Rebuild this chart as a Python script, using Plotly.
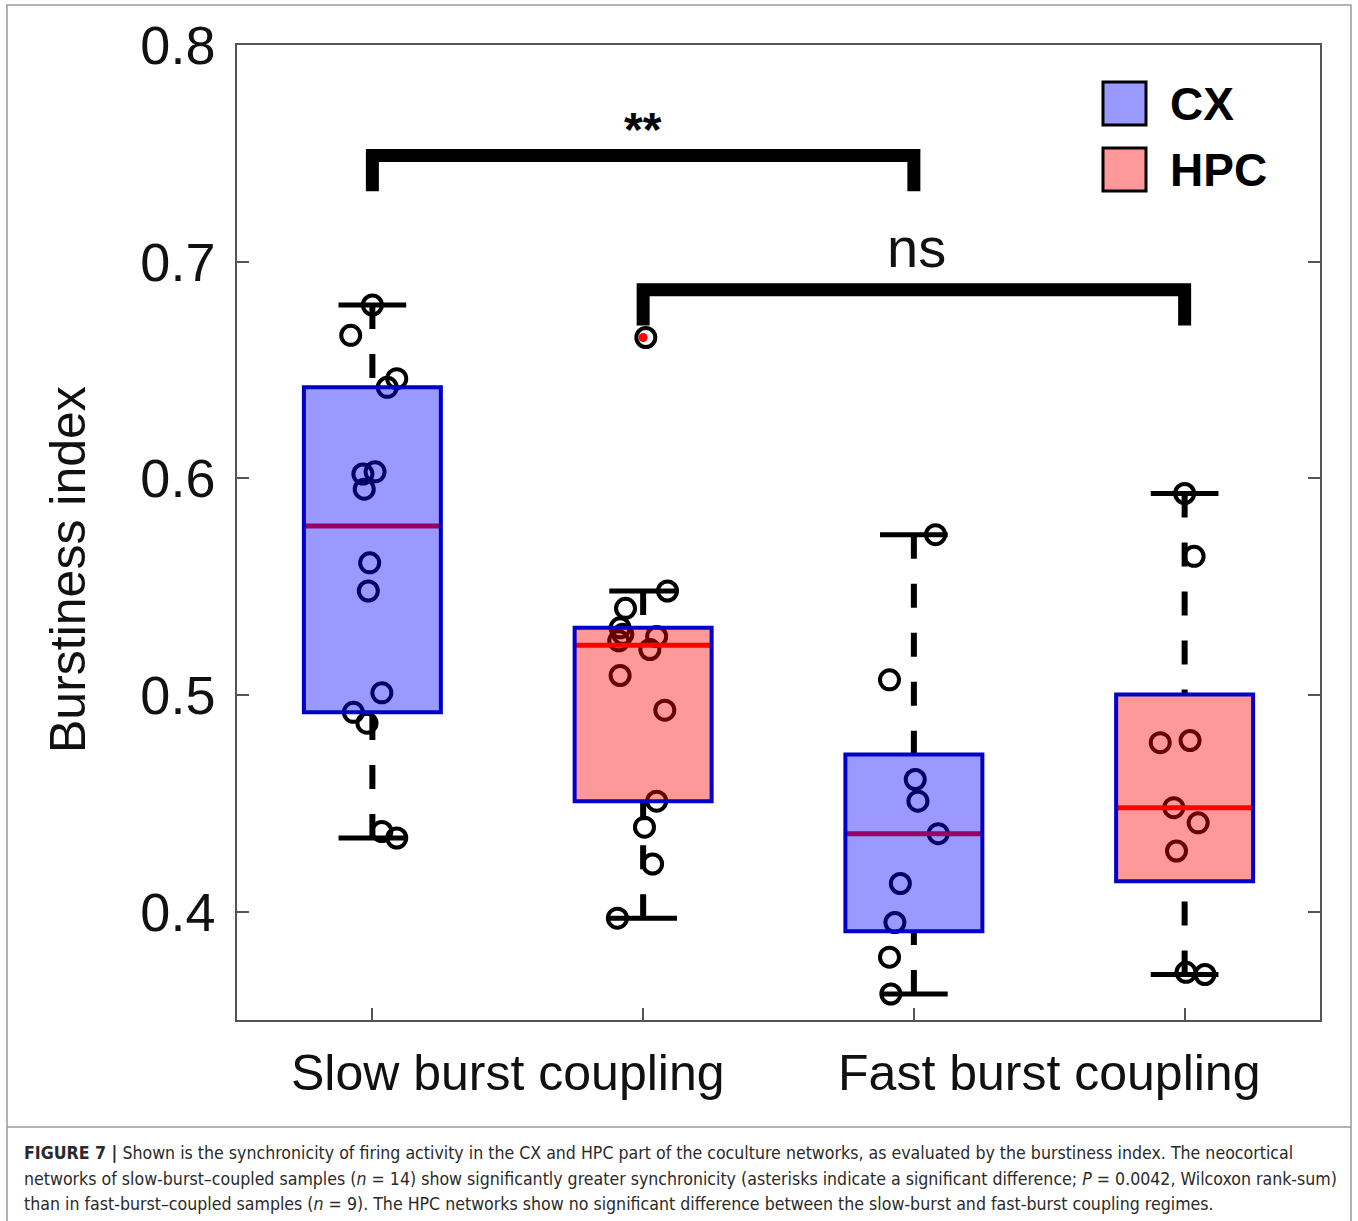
import plotly.graph_objects as go

# ---- data: burstiness index per culture -------------------------------
positions = [1, 2, 3, 4]
regions = ["CX", "HPC", "CX", "HPC"]
category_labels = ["Slow burst coupling", "Fast burst coupling"]
category_centers = [1.5, 3.5]

cx_slow = [0.680, 0.666, 0.646, 0.642, 0.603, 0.602, 0.595, 0.561, 0.548,
           0.501, 0.492, 0.487, 0.437, 0.434]
hpc_slow = [0.665, 0.548, 0.540, 0.531, 0.528, 0.527, 0.525, 0.521, 0.509,
            0.493, 0.451, 0.439, 0.422, 0.397]
cx_fast = [0.574, 0.507, 0.461, 0.451, 0.436, 0.413, 0.395, 0.379, 0.362]
hpc_fast = [0.593, 0.564, 0.479, 0.478, 0.448, 0.441, 0.428, 0.372, 0.371]

# horizontal scatter offsets of the individual cultures
cx_slow_jitter = [0.0, -0.08, 0.09, 0.055, 0.01, -0.035, -0.03, -0.01, -0.015,
                  0.035, -0.07, -0.02, 0.035, 0.09]
hpc_slow_jitter = [0.01, 0.09, -0.065, -0.085, -0.075, 0.05, -0.09, 0.025,
                   -0.085, 0.08, 0.05, 0.005, 0.035, -0.095]
cx_fast_jitter = [0.08, -0.09, 0.005, 0.015, 0.09, -0.05, -0.07, -0.09, -0.085]
hpc_fast_jitter = [0.0, 0.035, 0.02, -0.09, -0.04, 0.05, -0.03, 0.005, 0.075]

samples = [cx_slow, hpc_slow, cx_fast, hpc_fast]
jitters = [cx_slow_jitter, hpc_slow_jitter, cx_fast_jitter, hpc_fast_jitter]

# significance brackets
sig_pairs = [(1, 3), (2, 4)]
sig_labels = ["**", "ns"]
sig_heights = [0.749, 0.687]
sig_drop = 0.0165

y_ticks = [0.4, 0.5, 0.6, 0.7, 0.8]
y_range = [0.35, 0.8]
x_range = [0.5, 4.5]

# ---- styling -----------------------------------------------------------
fill = {"CX": "rgba(0,0,255,0.4)", "HPC": "rgba(255,0,0,0.4)"}
legend_fill = {"CX": "#9999ff", "HPC": "#ff9999"}
box_edge = "#0000c8"
box_half = 0.253
cap_half = 0.125
W, H = 1358, 1221
L, R, T, B = 237, 38, 45, 201


def px_x(p):
    return (p - L) / (W - L - R)


def px_y(p):
    return (H - B - p) / (H - T - B)


def prctile(vals, p):
    """Percentile as computed by MATLAB's prctile."""
    x = sorted(vals)
    n = len(x)
    pos = p / 100.0 * n + 0.5
    if pos <= 1:
        return x[0]
    if pos >= n:
        return x[-1]
    lo = int(pos)
    frac = pos - lo
    return x[lo - 1] + frac * (x[lo] - x[lo - 1])


def box_stats(vals):
    q1, med, q3 = prctile(vals, 25), prctile(vals, 50), prctile(vals, 75)
    iqr = q3 - q1
    hi = max(v for v in vals if v <= q3 + 1.5 * iqr)
    lo = min(v for v in vals if v >= q1 - 1.5 * iqr)
    out = [v for v in vals if v > hi or v < lo]
    return q1, med, q3, lo, hi, out


fig = go.Figure()
shapes = []

for pos, reg, vals, jit in zip(positions, regions, samples, jitters):
    q1, med, q3, lo, hi, out = box_stats(vals)

    # individual cultures
    fig.add_trace(go.Scatter(
        x=[pos + j for j in jit], y=vals, mode="markers",
        marker=dict(symbol="circle-open", size=19, color="black",
                    line=dict(width=4, color="black")),
        showlegend=False, hoverinfo="y"))

    # median (sits below the translucent box fill)
    fig.add_trace(go.Scatter(
        x=[pos - box_half, pos + box_half], y=[med, med], mode="lines",
        line=dict(color="#ff0000", width=5), showlegend=False, hoverinfo="skip"))

    # dashed whiskers, drawn from the whisker end toward the box
    for end, edge in ((hi, q3), (lo, q1)):
        fig.add_trace(go.Scatter(
            x=[pos, pos], y=[end, edge], mode="lines",
            line=dict(color="black", width=6, dash="24px,25px"),
            showlegend=False, hoverinfo="skip"))
        fig.add_trace(go.Scatter(
            x=[pos - cap_half, pos + cap_half], y=[end, end], mode="lines",
            line=dict(color="black", width=5),
            showlegend=False, hoverinfo="skip"))

    # outliers
    if out:
        fig.add_trace(go.Scatter(
            x=[pos] * len(out), y=out, mode="markers",
            marker=dict(symbol="circle", size=9, color="#ff0000"),
            showlegend=False, hoverinfo="y"))

    # interquartile box
    shapes.append(dict(type="rect", xref="x", yref="y",
                       x0=pos - box_half, x1=pos + box_half, y0=q1, y1=q3,
                       fillcolor=fill[reg], line=dict(color=box_edge, width=4),
                       layer="above"))

# significance brackets
for (a, b), lab, h in zip(sig_pairs, sig_labels, sig_heights):
    fig.add_trace(go.Scatter(
        x=[a, a, b, b], y=[h - sig_drop, h, h, h - sig_drop], mode="lines",
        line=dict(color="black", width=13), showlegend=False, hoverinfo="skip"))

fig.add_annotation(x=2, y=0.761, xref="x", yref="y", text="<b>**</b>",
                   showarrow=False, font=dict(size=48, color="black",
                                              family="Liberation Sans, Arial"))
fig.add_annotation(x=3.01, y=0.7065, xref="x", yref="y", text="ns",
                   showarrow=False, font=dict(size=56, color="#111111",
                                              family="Liberation Sans, Arial"))

# legend drawn as swatches with labels
for reg, top in (("CX", 82), ("HPC", 148)):
    shapes.append(dict(type="rect", xref="paper", yref="paper",
                       x0=px_x(1103), x1=px_x(1146), y0=px_y(top + 43), y1=px_y(top),
                       fillcolor=legend_fill[reg], line=dict(color="black", width=3)))
    fig.add_annotation(x=px_x(1168), y=px_y(top + 22), xref="paper", yref="paper",
                       xanchor="left", yanchor="middle", text="<b>%s</b>" % reg,
                       showarrow=False,
                       font=dict(size=46, color="black", family="Liberation Sans, Arial"))

# y-axis title
fig.add_annotation(x=px_x(68), y=px_y(570), xref="paper", yref="paper",
                   text="Burstiness index", textangle=-90, showarrow=False,
                   xanchor="center", yanchor="middle",
                   font=dict(size=50, color="#111111", family="Liberation Sans, Arial"))

# figure frame and caption
shapes.append(dict(type="rect", xref="paper", yref="paper",
                   x0=px_x(7), x1=px_x(1351), y0=px_y(1240), y1=px_y(5),
                   line=dict(color="#9a9a9a", width=1.5), fillcolor="rgba(0,0,0,0)"))
shapes.append(dict(type="line", xref="paper", yref="paper",
                   x0=px_x(7), x1=px_x(1351), y0=px_y(1127), y1=px_y(1127),
                   line=dict(color="#9a9a9a", width=1.5)))

caption_lines = [
    "<b>FIGURE 7 |</b> Shown is the synchronicity of firing activity in the CX and HPC part "
    "of the coculture networks, as evaluated by the burstiness index. The neocortical",
    "networks of slow-burst–coupled samples (<i>n</i> = 14) show significantly greater "
    "synchronicity (asterisks indicate a significant difference; <i>P</i> = 0.0042, "
    "Wilcoxon rank-sum)",
    "than in fast-burst–coupled samples (<i>n</i> = 9). The HPC networks show no significant "
    "difference between the slow-burst and fast-burst coupling regimes.",
]
for i, line in enumerate(caption_lines):
    fig.add_annotation(x=px_x(22), y=px_y(1153 + 25.5 * i), xref="paper", yref="paper",
                       xanchor="left", yanchor="middle", text=line, showarrow=False,
                       font=dict(size=17.6, color="#2a2a2a",
                                 family="DejaVu Sans Condensed, Liberation Sans, Arial"))

fig.update_layout(
    width=W, height=H, margin=dict(l=L, r=R, t=T, b=B, autoexpand=False),
    paper_bgcolor="white", plot_bgcolor="white", showlegend=False,
    shapes=shapes,
    font=dict(family="Liberation Sans, Arial", color="#111111"),
)
fig.update_xaxes(
    range=x_range, tickvals=category_centers, ticktext=category_labels,
    ticks="", showgrid=False, zeroline=False,
    showline=True, linecolor="#555555", linewidth=1.5, mirror=True,
    tickfont=dict(size=50, color="#111111"), ticklabelstandoff=8,
    minor=dict(tickvals=positions, ticks="inside", ticklen=12,
               tickcolor="#555555", tickwidth=1.5, showgrid=False),
)
fig.update_yaxes(
    range=y_range, tickvals=y_ticks, tickformat=".1f",
    ticks="inside", ticklen=12, tickcolor="#555555", tickwidth=1.5,
    showgrid=False, zeroline=False,
    showline=True, linecolor="#555555", linewidth=1.5, mirror="ticks",
    tickfont=dict(size=54, color="#111111"), ticklabelstandoff=9,
)

fig.write_html("out.html")
